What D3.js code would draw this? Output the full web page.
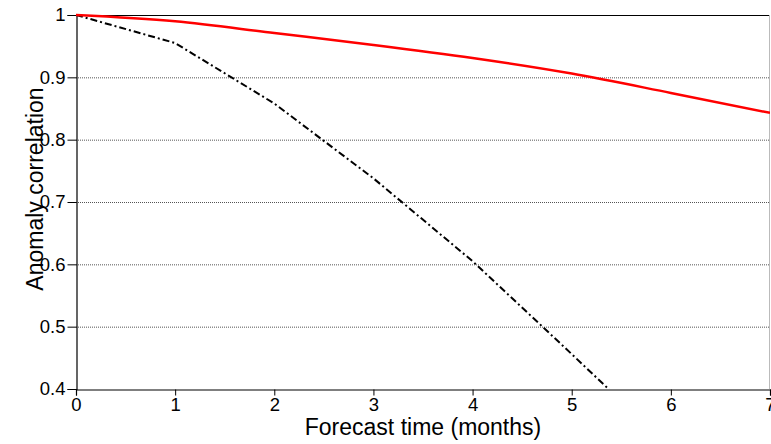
<!DOCTYPE html>
<html>
<head>
<meta charset="utf-8">
<script src="https://cdn.jsdelivr.net/npm/d3@7"></script>
<style>
  body { margin: 0; background: #fff; }
  svg { display: block; font-family: "Liberation Sans", Arial, sans-serif; }
</style>
</head>
<body>
<div id="chart"></div>
<script>
// forecast lead time in months
var months = [0, 1, 2, 3, 4, 5, 6, 7];
// red solid curve
var solidSeries = [1.0, 0.99, 0.971, 0.952, 0.931, 0.906, 0.875, 0.843];
// black dash-dot curve (runs off the bottom of the axis)
var dashSeries = [1.0, 0.955, 0.858, 0.738, 0.605, 0.456, 0.305, 0.17];
var yTicks = [0.4, 0.5, 0.6, 0.7, 0.8, 0.9, 1];
var xTicks = [0, 1, 2, 3, 4, 5, 6, 7];

var width = 771, height = 444,
    margin = {top: 15, right: 1, bottom: 55, left: 76};

var svg = d3.select('#chart').append('svg')
    .attr('width', width)
    .attr('height', height);

var x = d3.scaleLinear().domain([0, 7]).range([margin.left, width - margin.right]);
var y = d3.scaleLinear().domain([0.4, 1]).range([height - margin.bottom, margin.top]);

// clip for the lines
svg.append('clipPath').attr('id', 'plotclip')
    .append('rect')
    .attr('x', x(0)).attr('y', y(1) - 2)
    .attr('width', x(7) - x(0)).attr('height', y(0.4) - y(1) + 2);

// dotted grid
svg.append('g')
    .selectAll('line')
    .data(yTicks.filter(d => d > 0.4 && d < 1))
    .enter().append('line')
    .attr('x1', x(0)).attr('x2', x(7))
    .attr('y1', d => y(d) + 0.5).attr('y2', d => y(d) + 0.5)
    .attr('stroke', '#555')
    .attr('stroke-width', 1)
    .attr('stroke-dasharray', '1,1');

// top frame and right frame
svg.append('line')
    .attr('x1', x(0)).attr('x2', x(7))
    .attr('y1', y(1) + 0.5).attr('y2', y(1) + 0.5)
    .attr('stroke', '#000');
svg.append('line')
    .attr('x1', x(7) - 0.5).attr('x2', x(7) - 0.5)
    .attr('y1', y(1)).attr('y2', y(0.4))
    .attr('stroke', '#bbb');

// axes
var yAxis = d3.axisLeft(y).tickValues(yTicks).tickSize(9).tickPadding(2)
    .tickFormat(d => d === 1 ? '1' : d3.format('.1f')(d));
var gY = svg.append('g')
    .attr('transform', 'translate(' + (x(0) + 0.5) + ',0)')
    .call(yAxis);

var xAxis = d3.axisBottom(x).tickValues(xTicks).tickSize(6).tickPadding(2)
    .tickFormat(d3.format('d'));
var gX = svg.append('g')
    .attr('transform', 'translate(0,' + (y(0.4) + 0.5) + ')')
    .call(xAxis);

[gX, gY].forEach(function (g) {
    g.select('.domain').attr('stroke', '#000').attr('stroke-width', 1.2);
    g.selectAll('.tick line').attr('stroke', '#000');
    g.selectAll('.tick text').attr('fill', '#000').style('font-size', '18.5px');
});

var line = d3.line()
    .x((d, i) => x(months[i]))
    .y(d => y(d));

var lines = svg.append('g').attr('clip-path', 'url(#plotclip)');

lines.append('path')
    .datum(dashSeries)
    .attr('d', line)
    .attr('fill', 'none')
    .attr('stroke', '#000')
    .attr('stroke-width', 2)
    .attr('stroke-dasharray', '7,3,2,3');

lines.append('path')
    .datum(solidSeries)
    .attr('d', line.curve(d3.curveMonotoneX))
    .attr('fill', 'none')
    .attr('stroke', '#ff0000')
    .attr('stroke-width', 2.5);

// axis titles
svg.append('text')
    .attr('x', (x(0) + x(7)) / 2)
    .attr('y', 435)
    .attr('text-anchor', 'middle')
    .style('font-size', '23px')
    .text('Forecast time (months)');

svg.append('text')
    .attr('transform', 'translate(43,189) rotate(-90)')
    .attr('text-anchor', 'middle')
    .style('font-size', '23px')
    .text('Anomaly correlation');
</script>
</body>
</html>
